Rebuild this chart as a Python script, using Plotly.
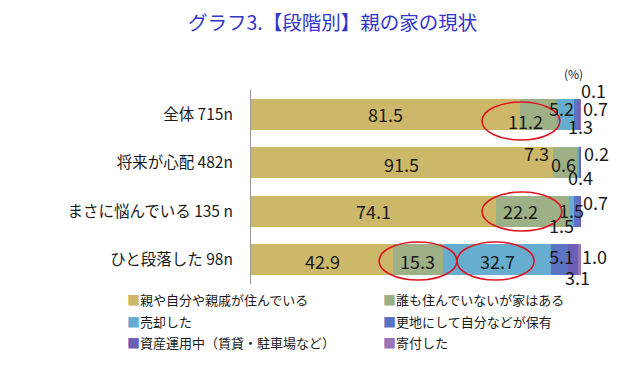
import plotly.graph_objects as go

# ---- data ----
categories = ["全体 715n", "将来が心配 482n", "まさに悩んでいる 135 n", "ひと段落した 98n"]
series_names = ["親や自分や親戚が住んでいる", "誰も住んでいないが家はある", "売却した",
                "更地にして自分などが保有", "資産運用中（賃貸・駐車場など）", "寄付した"]
s_live = [81.5, 91.5, 74.1, 42.9]
s_empty = [11.2, 7.3, 22.2, 15.3]
s_sold = [5.2, 0.6, 1.5, 32.7]
s_land = [1.3, 0.4, 1.5, 5.1]
s_invest = [0.7, 0.2, 0.7, 3.1]
s_donate = [0.1, 0.0, 0.0, 1.0]
series_values = [s_live, s_empty, s_sold, s_land, s_invest, s_donate]

# ---- style ----
colors = ["#CDB769", "#9DB086", "#66ADCF", "#5A73C2", "#6E5FB6", "#9C74B8"]
FONT = "Noto Sans CJK JP"
# plot area in page pixels (page has an 8px body margin)
PL, PR, PT, PB = 251, 581, 90, 284
def px_to_paper_x(px):
    return (px - PL) / (PR - PL)
def py_to_paper_y(py):
    return (PB - py) / (PB - PT)

# label pixel offsets (xshift, yshift) per [category][series]; None = no label
label_shift = [
    [(0, 0), (-13, -7), (-4, 6), (4, -12), (16, 6), (13, 24)],
    [(0, -1), (-29, 10), (-15, -1), (1, -14), (16, 10), None],
    [(0, 0), (-12, 0), (0, 1), (-15, -14), (16, 9), None],
    [(1, -1), (0, -1), (0, -1), (2, 4), (5, -17), (15, 4)],
]
# highlighted ellipses: (category index, x0, x1, y0 offset, y1 offset) in data units
ellipses = [(0, 70.0, 93.6, -0.253, 0.531),
            (2, 70.0, 94.2, -0.397, 0.407),
            (3, 38.8, 62.4, -0.366, 0.418),
            (3, 62.4, 85.8, -0.366, 0.418)]

fig = go.Figure()
for name, vals, col in zip(series_names, series_values, colors):
    fig.add_trace(go.Bar(y=categories, x=vals, name=name, orientation="h",
                         marker=dict(color=col, line=dict(width=0)),
                         showlegend=False, hoverinfo="x+name"))

annotations = []
# value labels
for ci, cat in enumerate(categories):
    cum = 0.0
    for si, vals in enumerate(series_values):
        v = vals[ci]
        sh = label_shift[ci][si]
        if sh is not None:
            annotations.append(dict(x=cum + v / 2, y=cat, xref="x", yref="y",
                                    xanchor="center", yanchor="middle",
                                    text=f"{v:.1f}", showarrow=False,
                                    xshift=sh[0], yshift=sh[1],
                                    font=dict(family=FONT, size=18, color="#1a1a1a")))
        cum += v

# legend drawn as text (2 columns x 3 rows)
leg_x = [px_to_paper_x(125), px_to_paper_x(381)]
leg_y = [py_to_paper_y(299), py_to_paper_y(321), py_to_paper_y(342)]
for i, (name, col) in enumerate(zip(series_names, colors)):
    col_i = i % 2
    row_i = i // 2
    annotations.append(dict(x=leg_x[col_i], y=leg_y[row_i], xref="paper", yref="paper",
                            xanchor="left", yanchor="middle", showarrow=False,
                            text=f"<span style='color:{col}'>■</span>{name}",
                            font=dict(family=FONT, size=13, color="#1a1a1a")))

# title and unit
annotations.append(dict(x=px_to_paper_x(332), y=py_to_paper_y(22), xref="paper", yref="paper",
                        xanchor="center", yanchor="middle", borderpad=0,
                        showarrow=False, text="グラフ3.【段階別】親の家の現状",
                        font=dict(family=FONT, size=19.5, color="#3535CC")))
annotations.append(dict(x=px_to_paper_x(573), y=py_to_paper_y(73), xref="paper", yref="paper",
                        xanchor="center", yanchor="middle",
                        showarrow=False, text="(%)",
                        font=dict(family=FONT, size=12, color="#1a1a1a")))

shapes = []
for ci, x0, x1, y0, y1 in ellipses:
    shapes.append(dict(type="circle", xref="x", yref="y", x0=x0, x1=x1,
                       y0=ci + y0, y1=ci + y1,
                       line=dict(color="#E0141E", width=1.6)))

W, H = 634, 377
fig.update_layout(
    width=W, height=H,
    margin=dict(l=PL - 8, r=W - (PR - 8), t=PT - 8, b=H - (PB - 8)),
    paper_bgcolor="white", plot_bgcolor="white",
    barmode="stack", bargap=0.36,
    font=dict(family=FONT, size=15, color="#1a1a1a"),
    xaxis=dict(range=[0, 100], visible=False, fixedrange=True),
    yaxis=dict(type="category", categoryorder="array", categoryarray=categories,
               range=[3.5, -0.5], showline=True, linecolor="#9A9A9A", linewidth=1,
               ticks="", showgrid=False, ticklabelstandoff=14,
               tickfont=dict(family=FONT, size=15.5, color="#1a1a1a")),
    annotations=annotations,
    shapes=shapes,
)
fig.write_html("out.html")
